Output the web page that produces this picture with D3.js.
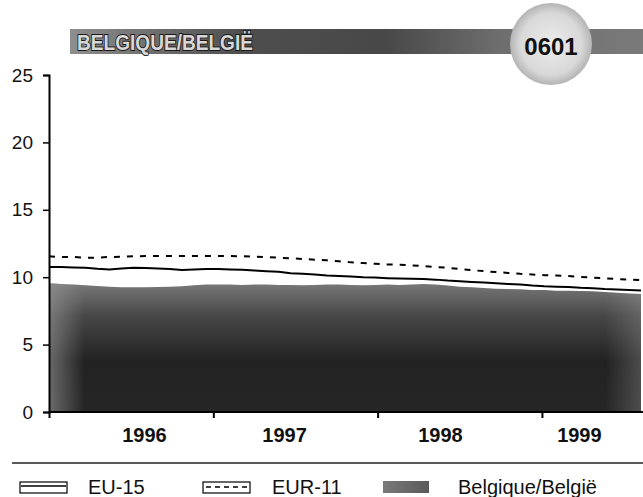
<!DOCTYPE html>
<html>
<head>
<meta charset="utf-8">
<script src="https://cdn.jsdelivr.net/npm/d3@7"></script>
<style>
  html, body { margin: 0; padding: 0; background: #fff; }
  svg { display: block; font-family: "Liberation Sans", Arial, sans-serif; }
</style>
</head>
<body>
<svg id="chart" width="643" height="497"></svg>
<script>
// ---- data (monthly, roughly Nov 1995 .. Dec 1999) ----
const months = d3.range(50);
const eu15 = [10.75,10.75,10.72,10.7,10.62,10.58,10.65,10.7,10.68,10.65,
              10.6,10.53,10.58,10.6,10.6,10.58,10.55,10.5,10.45,10.4,
              10.3,10.25,10.2,10.12,10.08,10.05,10.0,9.97,9.93,9.9,
              9.88,9.86,9.82,9.75,9.7,9.65,9.6,9.55,9.5,9.45,
              9.38,9.33,9.3,9.28,9.22,9.18,9.12,9.08,9.05,9.02];
const eur11 = [11.55,11.5,11.5,11.45,11.45,11.5,11.52,11.55,11.57,11.57,
               11.57,11.57,11.57,11.57,11.57,11.57,11.55,11.52,11.5,11.45,
               11.4,11.35,11.3,11.25,11.18,11.1,11.05,11.0,10.95,10.92,
               10.88,10.83,10.75,10.7,10.6,10.52,10.45,10.38,10.32,10.25,
               10.2,10.15,10.12,10.08,10.02,9.97,9.92,9.87,9.82,9.78];
const belgium = [9.55,9.5,9.45,9.4,9.35,9.3,9.25,9.25,9.25,9.28,
                 9.3,9.32,9.4,9.45,9.45,9.45,9.42,9.45,9.45,9.43,
                 9.42,9.4,9.42,9.45,9.45,9.42,9.4,9.42,9.45,9.42,
                 9.45,9.5,9.45,9.38,9.3,9.25,9.2,9.15,9.12,9.1,
                 9.05,9.05,9.0,9.0,8.98,8.95,8.9,8.85,8.8,8.75];
const yTicks = [0, 5, 10, 15, 20, 25];
const xTickMonths = [0, 13.6, 27.2, 40.8];
const yearLabels = ["1996", "1997", "1998", "1999"];
const yearLabelMonths = [7.9, 19.5, 32.4, 43.9];
const legendLabels = ["EU-15", "EUR-11", "Belgique/België"];
const titleText = "BELGIQUE/BELGIË";
const codeText = "0601";

// ---- layout ----
const svg = d3.select("#chart");
const x = d3.scaleLinear().domain([0, 49]).range([49, 641]);
const y = d3.scaleLinear().domain([0, 25]).range([412, 75]);

const defs = svg.append("defs");
const ag = defs.append("linearGradient").attr("id", "areaGrad")
  .attr("x1", 0).attr("y1", 0).attr("x2", 0).attr("y2", 1);
ag.append("stop").attr("offset", "0%").attr("stop-color", "#787878");
ag.append("stop").attr("offset", "25%").attr("stop-color", "#484848");
ag.append("stop").attr("offset", "60%").attr("stop-color", "#222");
ag.append("stop").attr("offset", "100%").attr("stop-color", "#262626");

const ag2 = defs.append("linearGradient").attr("id", "areaGradH")
  .attr("x1", 0).attr("y1", 0).attr("x2", 1).attr("y2", 0);
ag2.append("stop").attr("offset", "0%").attr("stop-color", "#999").attr("stop-opacity", 0.6);
ag2.append("stop").attr("offset", "6%").attr("stop-color", "#999").attr("stop-opacity", 0.0);
ag2.append("stop").attr("offset", "94%").attr("stop-color", "#999").attr("stop-opacity", 0.0);
ag2.append("stop").attr("offset", "100%").attr("stop-color", "#999").attr("stop-opacity", 0.35);

const bg = defs.append("linearGradient").attr("id", "bannerGrad")
  .attr("x1", 0).attr("y1", 0).attr("x2", 1).attr("y2", 0);
bg.append("stop").attr("offset", "0%").attr("stop-color", "#8e8e8e");
bg.append("stop").attr("offset", "30%").attr("stop-color", "#4e4e4e");
bg.append("stop").attr("offset", "55%").attr("stop-color", "#484848");
bg.append("stop").attr("offset", "75%").attr("stop-color", "#6e6e6e");
bg.append("stop").attr("offset", "100%").attr("stop-color", "#7a7a7a");

const cg = defs.append("radialGradient").attr("id", "circGrad");
cg.append("stop").attr("offset", "0%").attr("stop-color", "#ececec");
cg.append("stop").attr("offset", "75%").attr("stop-color", "#d8d8d8");
cg.append("stop").attr("offset", "100%").attr("stop-color", "#b4b4b4");

const sw = defs.append("linearGradient").attr("id", "swatchGrad")
  .attr("x1", 0).attr("y1", 0).attr("x2", 1).attr("y2", 0);
sw.append("stop").attr("offset", "0%").attr("stop-color", "#7a7a7a");
sw.append("stop").attr("offset", "100%").attr("stop-color", "#5a5a5a");

// ---- banner ----
svg.append("rect").attr("x", 70).attr("y", 29).attr("width", 573).attr("height", 25)
  .attr("fill", "url(#bannerGrad)");
svg.append("text").attr("x", 77).attr("y", 50)
  .attr("font-size", 22).attr("font-weight", "bold")
  .attr("textLength", 176).attr("lengthAdjust", "spacingAndGlyphs")
  .attr("fill", "#d8d8d8").attr("stroke", "#1a1a1a").attr("stroke-width", 1.8)
  .attr("paint-order", "stroke")
  .text(titleText);
svg.append("circle").attr("cx", 551).attr("cy", 44).attr("r", 41)
  .attr("fill", "url(#circGrad)");
svg.append("text").attr("x", 551).attr("y", 55).attr("text-anchor", "middle")
  .attr("font-size", 24).attr("font-weight", "bold").attr("fill", "#111")
  .text(codeText);

// ---- area ----
const area = d3.area().x((d, i) => x(months[i])).y0(y(0)).y1(d => y(d));
svg.append("path").datum(belgium).attr("d", area).attr("fill", "url(#areaGrad)");
svg.append("path").datum(belgium).attr("d", area).attr("fill", "url(#areaGradH)");

// ---- lines ----
const line = d3.line().x((d, i) => x(months[i])).y(d => y(d));
svg.append("path").datum(eu15).attr("d", line)
  .attr("fill", "none").attr("stroke", "#000").attr("stroke-width", 2);
svg.append("path").datum(eur11).attr("d", line)
  .attr("fill", "none").attr("stroke", "#000").attr("stroke-width", 2)
  .attr("stroke-dasharray", "6,7");

// ---- axes ----
const yAxis = d3.axisLeft(y).tickValues(yTicks).tickSize(6).tickPadding(10).tickFormat(d3.format("d"));
const gy = svg.append("g").attr("transform", `translate(${x(0)},0)`).call(yAxis);
gy.select(".domain").attr("stroke", "#000").attr("stroke-width", 2);
gy.selectAll(".tick line").attr("stroke", "#000").attr("stroke-width", 1.5);
gy.selectAll(".tick text").attr("font-size", 19).attr("fill", "#111")
  .attr("font-family", "Liberation Sans, Arial, sans-serif");

const xAxis = d3.axisBottom(x).tickValues(xTickMonths).tickSize(6).tickFormat("");
const gx = svg.append("g").attr("transform", `translate(0,${y(0)})`).call(xAxis);
gx.select(".domain").attr("stroke", "#000").attr("stroke-width", 2)
  .attr("d", `M${x(0)},0H643`);
gx.selectAll(".tick line").attr("stroke", "#000").attr("stroke-width", 2);

svg.append("g").selectAll("text").data(yearLabels).join("text")
  .attr("x", (d, i) => x(yearLabelMonths[i])).attr("y", 442)
  .attr("text-anchor", "middle").attr("font-size", 20).attr("font-weight", "bold")
  .attr("fill", "#111").text(d => d);

// ---- legend ----
svg.append("line").attr("x1", 12).attr("x2", 643).attr("y1", 463).attr("y2", 463)
  .attr("stroke", "#222").attr("stroke-width", 1.5);

const lg = svg.append("g");
// EU-15
lg.append("rect").attr("x", 20).attr("y", 482).attr("width", 47).attr("height", 11)
  .attr("fill", "#fff").attr("stroke", "#000").attr("stroke-width", 1.2);
lg.append("line").attr("x1", 21).attr("x2", 66).attr("y1", 486).attr("y2", 486)
  .attr("stroke", "#000").attr("stroke-width", 1.5);
// EUR-11
lg.append("rect").attr("x", 203).attr("y", 482).attr("width", 47).attr("height", 11)
  .attr("fill", "#fff").attr("stroke", "#000").attr("stroke-width", 1.2);
lg.append("line").attr("x1", 206).attr("x2", 248).attr("y1", 487).attr("y2", 487)
  .attr("stroke", "#000").attr("stroke-width", 1.5).attr("stroke-dasharray", "5,4");
// Belgique
lg.append("rect").attr("x", 383).attr("y", 481).attr("width", 46).attr("height", 12)
  .attr("fill", "url(#swatchGrad)");

const legendX = [88, 272, 458];
lg.selectAll("text").data(legendLabels).join("text")
  .attr("x", (d, i) => legendX[i]).attr("y", 494)
  .attr("font-size", 20).attr("fill", "#111").text(d => d);
</script>
</body>
</html>
